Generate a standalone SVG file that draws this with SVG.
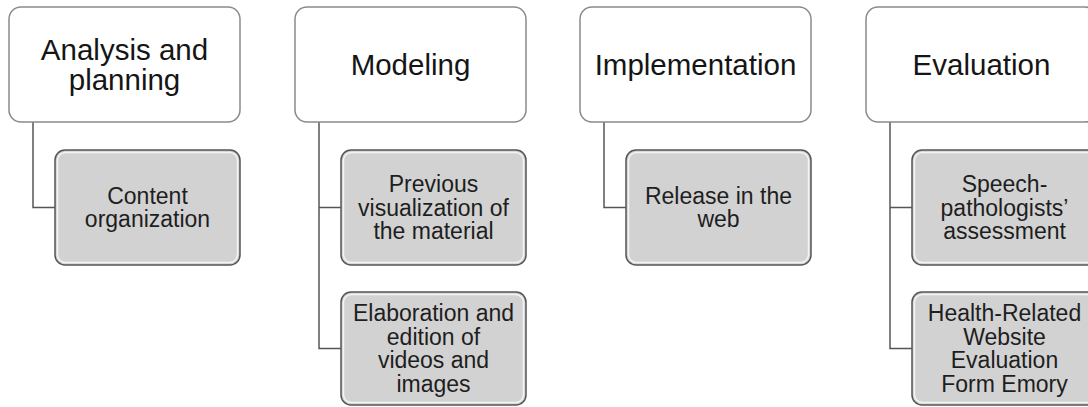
<svg xmlns="http://www.w3.org/2000/svg" width="1088" height="407" viewBox="0 0 1088 407">
  <style>
    .head rect { fill: #ffffff; stroke: #8a8a8a; stroke-width: 1.5; }
    .head text { font-family: "Liberation Sans", Arial, sans-serif; font-size: 29.5px; fill: #151515; text-anchor: middle; }
    .item .outer { fill: #d2d2d2; stroke: #555555; stroke-width: 1.5; }
    .item .hl { fill: none; stroke: #ffffff; stroke-opacity: 0.75; stroke-width: 1.5; }
    .item text { font-family: "Liberation Sans", Arial, sans-serif; font-size: 23px; fill: #1e1e1e; text-anchor: middle; }
    .links path { fill: none; stroke: #555555; stroke-width: 1.5; }
  </style>

  <rect width="1088" height="407" fill="#ffffff"/>

  <!-- connectors from each stage to its tasks -->
  <g class="links">
    <path d="M33 122 V207.5 H55"/>
    <path d="M319 122 V348.5 H341 M319 207.5 H341"/>
    <path d="M604 122 V207.5 H626"/>
    <path d="M890 122 V348.5 H912 M890 207.5 H912"/>
  </g>

  <!-- stage headers -->
  <g id="analysis" class="head">
    <rect x="9" y="7" width="231" height="115" rx="12"/>
    <text x="124.5" y="60">Analysis and</text>
    <text x="124.5" y="90">planning</text>
  </g>
  <g id="modeling" class="head">
    <rect x="295" y="7" width="231" height="115" rx="12"/>
    <text x="410.5" y="75">Modeling</text>
  </g>
  <g id="implementation" class="head">
    <rect x="580" y="7" width="231" height="115" rx="12"/>
    <text x="695.5" y="75">Implementation</text>
  </g>
  <g id="evaluation" class="head">
    <rect x="866" y="7" width="231" height="115" rx="12"/>
    <text x="981.5" y="75">Evaluation</text>
  </g>

  <!-- task boxes -->
  <g id="content-organization" class="item">
    <rect class="outer" x="55" y="150" width="185" height="115" rx="10"/>
    <rect class="hl" x="57.5" y="152.5" width="180" height="110" rx="8"/>
    <text x="147.5" y="203.5">Content</text>
    <text x="147.5" y="227">organization</text>
  </g>
  <g id="previous-visualization" class="item">
    <rect class="outer" x="341" y="150" width="185" height="115" rx="10"/>
    <rect class="hl" x="343.5" y="152.5" width="180" height="110" rx="8"/>
    <text x="433.5" y="192">Previous</text>
    <text x="433.5" y="215.5">visualization of</text>
    <text x="433.5" y="239">the material</text>
  </g>
  <g id="elaboration" class="item">
    <rect class="outer" x="341" y="292" width="185" height="113" rx="10"/>
    <rect class="hl" x="343.5" y="294.5" width="180" height="108" rx="8"/>
    <text x="433.5" y="321">Elaboration and</text>
    <text x="433.5" y="344.5">edition of</text>
    <text x="433.5" y="368">videos and</text>
    <text x="433.5" y="391.5">images</text>
  </g>
  <g id="release" class="item">
    <rect class="outer" x="626" y="150" width="185" height="115" rx="10"/>
    <rect class="hl" x="628.5" y="152.5" width="180" height="110" rx="8"/>
    <text x="718.5" y="203.5">Release in the</text>
    <text x="718.5" y="227">web</text>
  </g>
  <g id="speech-assessment" class="item">
    <rect class="outer" x="912" y="150" width="185" height="115" rx="10"/>
    <rect class="hl" x="914.5" y="152.5" width="180" height="110" rx="8"/>
    <text x="1004.5" y="192">Speech-</text>
    <text x="1004.5" y="215.5">pathologists’</text>
    <text x="1004.5" y="239">assessment</text>
  </g>
  <g id="hrwef" class="item">
    <rect class="outer" x="912" y="292" width="185" height="113" rx="10"/>
    <rect class="hl" x="914.5" y="294.5" width="180" height="108" rx="8"/>
    <text x="1004.5" y="321">Health-Related</text>
    <text x="1004.5" y="344.5">Website</text>
    <text x="1004.5" y="368">Evaluation</text>
    <text x="1004.5" y="391.5">Form Emory</text>
  </g>
</svg>
